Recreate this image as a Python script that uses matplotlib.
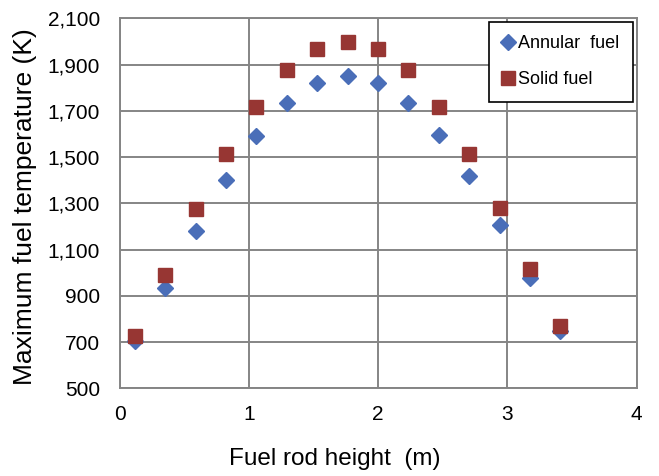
import matplotlib.pyplot as plt
from matplotlib.ticker import MultipleLocator, StrMethodFormatter

plt.rcParams['font.family'] = ['Liberation Sans', 'DejaVu Sans']

# axial nodes along the rod (m)
height = [0.118, 0.353, 0.588, 0.823, 1.058, 1.294, 1.529, 1.764,
          1.999, 2.234, 2.469, 2.705, 2.940, 3.175, 3.410]

# maximum fuel temperature at each node (K)
annular_temp = [705, 935, 1180, 1400, 1590, 1735, 1820, 1850,
                1820, 1733, 1595, 1418, 1207, 975, 750]
solid_temp = [725, 990, 1275, 1512, 1718, 1875, 1968, 1998,
              1968, 1875, 1718, 1512, 1278, 1018, 768]

y_ticks = list(range(500, 2101, 200))

fig = plt.figure(figsize=(6.59, 4.76), dpi=100)
ax = fig.add_axes([0.1815, 0.1842, 0.7845, 0.7774])

ax.plot(height, annular_temp, linestyle='none', marker='D', markersize=7.8,
        color='#4A6EB8', label='Annular  fuel', zorder=3)
ax.plot(height, solid_temp, linestyle='none', marker='s', markersize=10.5,
        color='#973633', label='Solid fuel', zorder=3)

ax.set_xlim(0, 4)
ax.set_ylim(500, 2100)
ax.xaxis.set_major_locator(MultipleLocator(1))
ax.set_yticks(y_ticks)
ax.yaxis.set_major_formatter(StrMethodFormatter('{x:,.0f}'))

ax.grid(True, color='#858585', linewidth=1.4)
ax.set_axisbelow(True)
for sp in ax.spines.values():
    sp.set_color('#858585')
    sp.set_linewidth(1.4)
ax.tick_params(length=0, labelsize=15, colors='black')
ax.tick_params(axis='y', pad=14)
ax.tick_params(axis='x', pad=12)

# axis titles placed in figure coordinates
fig.text(335 / 659, 1 - 459 / 476, 'Fuel rod height  (m)', fontsize=17.5,
         ha='center', va='center')
fig.text(25 / 659, 1 - 207 / 476, 'Maximum fuel temperature (K)', fontsize=19,
         ha='center', va='center', rotation=90)

leg = ax.legend(loc='upper right', bbox_to_anchor=(1.0, 1.0),
                fontsize=13, frameon=True, fancybox=False,
                handlelength=0.6, handletextpad=0.25, borderpad=0.75,
                labelspacing=1.05, borderaxespad=0.2)
leg.get_frame().set_edgecolor('black')
leg.get_frame().set_linewidth(1.2)
leg.get_frame().set_alpha(1)

plt.savefig('out.png', dpi=100)
